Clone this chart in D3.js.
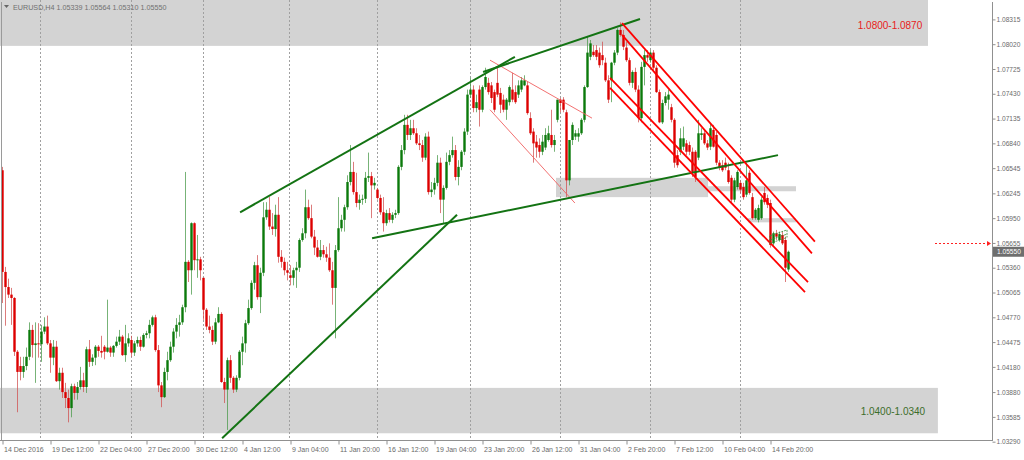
<!DOCTYPE html>
<html><head><meta charset="utf-8">
<script src="https://cdn.jsdelivr.net/npm/d3@7"></script>
<style>body{margin:0;background:#fff;overflow:hidden}svg{display:block}</style>
</head><body><svg id="c" width="1024" height="460"></svg>
<script>
// ---- data (EURUSD H4) ----
const opens=[1.0652,1.0531,1.0513,1.0504,1.0500,1.0436,1.0419,1.0412,1.0419,1.0430,1.0462,1.0444,1.0446,1.0445,1.0460,1.0466,1.0446,1.0429,1.0442,1.0401,1.0411,1.0388,1.0381,1.0369,1.0395,1.0387,1.0394,1.0402,1.0394,1.0439,1.0424,1.0429,1.0442,1.0437,1.0442,1.0436,1.0441,1.0435,1.0443,1.0448,1.0454,1.0432,1.0446,1.0450,1.0435,1.0446,1.0450,1.0442,1.0456,1.0458,1.0468,1.0477,1.0438,1.0396,1.0382,1.0412,1.0426,1.0442,1.0460,1.0468,1.0471,1.0489,1.0543,1.0533,1.0589,1.0545,1.0546,1.0524,1.0486,1.0466,1.0462,1.0448,1.0471,1.0481,1.0400,1.0391,1.0426,1.0405,1.0391,1.0405,1.0436,1.0446,1.0470,1.0488,1.0518,1.0539,1.0501,1.0530,1.0596,1.0605,1.0585,1.0582,1.0599,1.0549,1.0543,1.0533,1.0527,1.0524,1.0533,1.0536,1.0569,1.0577,1.0608,1.0595,1.0573,1.0560,1.0549,1.0557,1.0552,1.0548,1.0533,1.0512,1.0557,1.0583,1.0593,1.0608,1.0638,1.0650,1.0626,1.0613,1.0617,1.0618,1.0643,1.0645,1.0634,1.0629,1.0619,1.0602,1.0589,1.0601,1.0593,1.0599,1.0601,1.0656,1.0676,1.0706,1.0694,1.0702,1.0696,1.0684,1.0682,1.0667,1.0692,1.0626,1.0629,1.0637,1.0661,1.0617,1.0631,1.0662,1.0670,1.0676,1.0644,1.0656,1.0674,1.0698,1.0742,1.0748,1.0726,1.0748,1.0724,1.0751,1.0756,1.0753,1.0745,1.0756,1.0744,1.0736,1.0724,1.0733,1.0748,1.0745,1.0742,1.0748,1.0753,1.0753,1.0714,1.0698,1.0686,1.0682,1.0674,1.0679,1.0688,1.0694,1.0682,1.0712,1.0736,1.0736,1.0721,1.0640,1.0688,1.0692,1.0692,1.0696,1.0712,1.0751,1.0787,1.0793,1.0795,1.0792,1.0789,1.0780,1.0759,1.0759,1.0780,1.0792,1.0819,1.0813,1.0798,1.0783,1.0756,1.0769,1.0748,1.0714,1.0775,1.0789,1.0783,1.0792,1.0774,1.0745,1.0709,1.0732,1.0736,1.0727,1.0712,1.0670,1.0674,1.0680,1.0684,1.0682,1.0674,1.0674,1.0667,1.0694,1.0696,1.0684,1.0680,1.0700,1.0694,1.0661,1.0658,1.0661,1.0652,1.0643,1.0617,1.0632,1.0637,1.0632,1.0623,1.0649,1.0620,1.0595,1.0593,1.0595,1.0625,1.0619,1.0613,1.0565,1.0577,1.0569,1.0575,1.0569,1.05339];
const highs=[1.0656,1.0537,1.0523,1.0512,1.0501,1.0438,1.0430,1.0430,1.0441,1.0471,1.0468,1.0471,1.0470,1.0468,1.0477,1.0479,1.0450,1.0450,1.0449,1.0417,1.0417,1.0399,1.0391,1.0398,1.0398,1.0400,1.0418,1.0411,1.0442,1.0450,1.0433,1.0444,1.0444,1.0455,1.0444,1.0498,1.0443,1.0444,1.0454,1.0462,1.0456,1.0468,1.0458,1.0455,1.0449,1.0454,1.0454,1.0458,1.0461,1.0474,1.0479,1.0480,1.0444,1.0400,1.0417,1.0436,1.0448,1.0464,1.0476,1.0480,1.0492,1.0650,1.0545,1.0590,1.0590,1.0575,1.0549,1.0524,1.0488,1.0479,1.0467,1.0476,1.0489,1.0483,1.0405,1.0429,1.0432,1.0407,1.0408,1.0438,1.0454,1.0474,1.0498,1.0521,1.0543,1.0551,1.0536,1.0614,1.0614,1.0620,1.0601,1.0611,1.0620,1.0557,1.0548,1.0543,1.0539,1.0536,1.0543,1.0571,1.0583,1.0629,1.0617,1.0611,1.0581,1.0569,1.0569,1.0563,1.0561,1.0565,1.0543,1.0563,1.0620,1.0599,1.0611,1.0646,1.0682,1.0662,1.0649,1.0623,1.0623,1.0650,1.0673,1.0650,1.0643,1.0631,1.0623,1.0620,1.0605,1.0607,1.0602,1.0605,1.0658,1.0682,1.0718,1.0718,1.0712,1.0712,1.0702,1.0694,1.0688,1.0696,1.0698,1.0638,1.0643,1.0670,1.0667,1.0634,1.0673,1.0676,1.0692,1.0682,1.0664,1.0676,1.0702,1.0748,1.0762,1.0753,1.0742,1.0753,1.0753,1.0774,1.0762,1.0757,1.0748,1.0775,1.0750,1.0742,1.0738,1.0753,1.0768,1.0753,1.0759,1.0763,1.0765,1.0757,1.0721,1.0702,1.0694,1.0690,1.0694,1.0702,1.0705,1.0724,1.0694,1.0736,1.0738,1.0739,1.0724,1.0688,1.0709,1.0700,1.0702,1.0714,1.0753,1.0811,1.0807,1.0801,1.0801,1.0798,1.0805,1.0786,1.0765,1.0781,1.0795,1.0821,1.0828,1.0819,1.0805,1.0786,1.0771,1.0774,1.0753,1.0781,1.0795,1.0795,1.0795,1.0795,1.0777,1.0748,1.0736,1.0745,1.0748,1.0731,1.0714,1.0676,1.0702,1.0704,1.0688,1.0686,1.0679,1.0676,1.0712,1.0702,1.0700,1.0688,1.0708,1.0706,1.0698,1.0664,1.0664,1.0667,1.0661,1.0646,1.0643,1.0652,1.0640,1.0637,1.0661,1.0652,1.0625,1.0607,1.0611,1.0620,1.0632,1.0623,1.0617,1.0579,1.0581,1.0579,1.0579,1.0573,1.05564];
const lows=[1.0494,1.0467,1.0500,1.0468,1.0431,1.0364,1.0402,1.0405,1.0414,1.0426,1.0429,1.0399,1.0429,1.0424,1.0457,1.0444,1.0411,1.0420,1.0400,1.0391,1.0381,1.0369,1.0352,1.0358,1.0379,1.0379,1.0391,1.0388,1.0387,1.0418,1.0419,1.0420,1.0430,1.0429,1.0427,1.0435,1.0430,1.0430,1.0441,1.0444,1.0431,1.0424,1.0442,1.0430,1.0431,1.0442,1.0437,1.0441,1.0452,1.0452,1.0466,1.0436,1.0388,1.0370,1.0381,1.0402,1.0424,1.0435,1.0452,1.0454,1.0468,1.0483,1.0519,1.0504,1.0533,1.0524,1.0521,1.0474,1.0462,1.0458,1.0444,1.0445,1.0470,1.0399,1.0375,1.0343,1.0399,1.0387,1.0388,1.0402,1.0420,1.0435,1.0468,1.0486,1.0510,1.0498,1.0482,1.0526,1.0593,1.0581,1.0575,1.0573,1.0542,1.0536,1.0527,1.0521,1.0515,1.0515,1.0512,1.0531,1.0567,1.0571,1.0593,1.0571,1.0551,1.0548,1.0545,1.0548,1.0543,1.0531,1.0492,1.0452,1.0555,1.0579,1.0579,1.0605,1.0634,1.0623,1.0608,1.0605,1.0611,1.0613,1.0638,1.0595,1.0629,1.0617,1.0599,1.0579,1.0586,1.0590,1.0589,1.0595,1.0599,1.0652,1.0671,1.0688,1.0688,1.0694,1.0682,1.0676,1.0662,1.0664,1.0623,1.0620,1.0623,1.0633,1.0601,1.0589,1.0629,1.0658,1.0667,1.0640,1.0634,1.0652,1.0670,1.0694,1.0738,1.0721,1.0721,1.0704,1.0721,1.0748,1.0742,1.0732,1.0721,1.0739,1.0720,1.0721,1.0712,1.0729,1.0733,1.0731,1.0738,1.0745,1.0752,1.0718,1.0694,1.0661,1.0667,1.0667,1.0670,1.0676,1.0686,1.0679,1.0674,1.0709,1.0721,1.0721,1.0620,1.0634,1.0682,1.0688,1.0686,1.0694,1.0709,1.0750,1.0783,1.0787,1.0783,1.0774,1.0777,1.0757,1.0732,1.0733,1.0777,1.0789,1.0811,1.0795,1.0781,1.0753,1.0750,1.0745,1.0709,1.0709,1.0753,1.0781,1.0780,1.0769,1.0744,1.0708,1.0707,1.0729,1.0724,1.0709,1.0655,1.0655,1.0670,1.0676,1.0670,1.0670,1.0644,1.0638,1.0664,1.0688,1.0682,1.0676,1.0676,1.0679,1.0658,1.0652,1.0650,1.0652,1.0636,1.0613,1.0614,1.0629,1.0625,1.0617,1.0620,1.0623,1.0593,1.0593,1.0590,1.0593,1.0611,1.0607,1.0560,1.0562,1.0569,1.0567,1.0563,1.0519,1.05310];
const closes=[1.0531,1.0513,1.0504,1.0500,1.0436,1.0412,1.0412,1.0419,1.0430,1.0462,1.0444,1.0446,1.0445,1.0460,1.0466,1.0446,1.0429,1.0442,1.0401,1.0411,1.0388,1.0381,1.0369,1.0395,1.0387,1.0394,1.0402,1.0394,1.0439,1.0424,1.0429,1.0442,1.0437,1.0435,1.0436,1.0441,1.0435,1.0443,1.0448,1.0454,1.0432,1.0446,1.0452,1.0435,1.0446,1.0450,1.0442,1.0456,1.0458,1.0468,1.0477,1.0438,1.0396,1.0382,1.0412,1.0426,1.0442,1.0460,1.0468,1.0471,1.0489,1.0543,1.0533,1.0589,1.0545,1.0546,1.0533,1.0486,1.0466,1.0462,1.0448,1.0471,1.0481,1.0400,1.0391,1.0426,1.0405,1.0391,1.0405,1.0436,1.0446,1.0470,1.0488,1.0518,1.0539,1.0501,1.0530,1.0596,1.0605,1.0585,1.0582,1.0599,1.0549,1.0543,1.0533,1.0530,1.0524,1.0533,1.0536,1.0569,1.0577,1.0608,1.0595,1.0573,1.0560,1.0549,1.0557,1.0552,1.0548,1.0533,1.0512,1.0557,1.0583,1.0593,1.0608,1.0638,1.0650,1.0626,1.0613,1.0617,1.0618,1.0643,1.0645,1.0634,1.0637,1.0619,1.0602,1.0589,1.0601,1.0593,1.0599,1.0601,1.0656,1.0676,1.0706,1.0694,1.0702,1.0696,1.0684,1.0682,1.0667,1.0692,1.0626,1.0629,1.0637,1.0661,1.0617,1.0631,1.0662,1.0670,1.0676,1.0644,1.0656,1.0674,1.0698,1.0742,1.0748,1.0726,1.0733,1.0724,1.0751,1.0763,1.0745,1.0738,1.0724,1.0742,1.0730,1.0724,1.0736,1.0751,1.0736,1.0733,1.0753,1.0759,1.0759,1.0720,1.0696,1.0684,1.0679,1.0674,1.0686,1.0694,1.0696,1.0682,1.0688,1.0736,1.0732,1.0724,1.0640,1.0688,1.0706,1.0696,1.0696,1.0712,1.0751,1.0792,1.0803,1.0789,1.0787,1.0777,1.0783,1.0759,1.0736,1.0780,1.0792,1.0819,1.0813,1.0799,1.0783,1.0756,1.0769,1.0748,1.0714,1.0775,1.0789,1.0786,1.0792,1.0774,1.0745,1.0709,1.0732,1.0740,1.0742,1.0712,1.0661,1.0658,1.0690,1.0690,1.0674,1.0674,1.0650,1.0644,1.0696,1.0696,1.0684,1.0679,1.0702,1.0680,1.0661,1.0655,1.0652,1.0655,1.0638,1.0617,1.0640,1.0650,1.0629,1.0620,1.0640,1.0625,1.0595,1.0605,1.0607,1.0617,1.0614,1.0611,1.0563,1.0577,1.0573,1.0576,1.0565,1.0536,1.05550];

const yTickValues=[1.08315,1.08020,1.07725,1.07430,1.07135,1.06840,1.06545,1.06245,1.05950,1.05655,1.05360,1.05065,1.04770,1.04475,1.04180,1.03880,1.03585,1.03290];
const xTickBars=[0,16,32,48,64,80,96,112,128,144,160,176,192,208,224,240,256];
const xTickLabels=["14 Dec 2016","19 Dec 12:00","22 Dec 04:00","27 Dec 20:00","30 Dec 12:00","4 Jan 12:00","9 Jan 04:00","11 Jan 20:00","16 Jan 12:00","19 Jan 04:00","23 Jan 20:00","26 Jan 12:00","31 Jan 04:00","2 Feb 20:00","7 Feb 12:00","10 Feb 04:00","14 Feb 20:00"];
const weekStarts=[13,43,67,96,125,156,186,216,246];

// drawn objects: [barIndex, price] endpoints
const greenLines=[[[79.2,1.0602],[170.8,1.0787]],[[160.2,1.0769],[212.5,1.0832]],[[123.2,1.0571],[258.5,1.0670]],[[73.2,1.0333],[151.5,1.0599]]];
const thinRedLines=[[[162.5,1.0783],[196.5,1.0714]],[[162.5,1.0724],[190.8,1.0613]]];
const channelLines=[[[206.5,1.0827],[270.8,1.0567]],[[206.5,1.0813],[269.8,1.0553]],[[202.5,1.0762],[268.5,1.0519]],[[202.5,1.0750],[267.5,1.0507]]];
const miniChannel=[[[255.8,1.0574],[261.5,1.0581]],[[255.8,1.0569],[261.5,1.0576]],[[255.8,1.0565],[261.5,1.0572]],[[255.8,1.0574],[255.8,1.0565]],[[261.5,1.0581],[261.5,1.0572]]];
const zones=[{from:-2,to:308.5,hi:1.0870,lo:1.0800,label:"1.0800-1.0870"},{from:-2,to:311.8,hi:1.0393,lo:1.0339,label:"1.0400-1.0340"}];
const smallZones=[[184.5,235.2,1.0643,1.0620],[235.2,264.5,1.0633,1.0627],[248.5,264.5,1.0595,1.0590]];
const alertPrice=1.05655;
const header=["EURUSD,H4","1.05339","1.05564","1.05310","1.05550"];

// ---- scales ----
const svg=d3.select("#c");
const plotR=993, plotB=441;
const x=d3.scaleLinear().domain([0,330]).range([2.5,992.5]);
const y=d3.scaleLinear().domain([1.03298,1.08546]).range([441,0]);

svg.append("rect").attr("width",1024).attr("height",460).attr("fill","#fff");
svg.append("defs").append("clipPath").attr("id","pc").append("rect").attr("x",0).attr("y",0).attr("width",plotR).attr("height",plotB);
const g=svg.append("g").attr("clip-path","url(#pc)");

// zones
g.selectAll(".z").data(zones).join("rect").attr("x",d=>x(d.from)).attr("y",d=>y(d.hi))
 .attr("width",d=>x(d.to)-x(d.from)).attr("height",d=>y(d.lo)-y(d.hi)).attr("fill","#d3d3d3");
g.selectAll(".sz").data(smallZones).join("rect").attr("x",d=>x(d[0])).attr("y",d=>y(d[2]))
 .attr("width",d=>x(d[1])-x(d[0])).attr("height",d=>y(d[3])-y(d[2])).attr("fill","#d3d3d3");

// week separators
g.selectAll(".sep").data(weekStarts).join("line").attr("x1",d=>Math.round(x(d))-0.5).attr("x2",d=>Math.round(x(d))-0.5)
 .attr("y1",0).attr("y2",plotB).attr("stroke","#a0a0a0").attr("stroke-dasharray","2,2").attr("stroke-width",1);

// candles
const idx=d3.range(closes.length);
const up=i=>closes[i]>=opens[i];
g.selectAll(".wick").data(idx).join("line").attr("x1",i=>x(i)).attr("x2",i=>x(i))
 .attr("y1",i=>y(highs[i])).attr("y2",i=>y(lows[i]))
 .attr("stroke",i=>up(i)?"#4a9a4a":"#d05050").attr("stroke-width",1).attr("stroke-opacity",0.75);
g.selectAll(".body").data(idx).join("rect").attr("x",i=>x(i)-1.2).attr("width",2.4)
 .attr("y",i=>y(Math.max(opens[i],closes[i])))
 .attr("height",i=>Math.max(1,Math.abs(y(opens[i])-y(closes[i]))))
 .attr("fill",i=>up(i)?"#0b7a0b":"#dd0000");

// lines
const lg=d3.line().x(d=>x(d[0])).y(d=>y(d[1]));
g.selectAll(".tl").data(thinRedLines).join("path").attr("d",lg).attr("fill","none").attr("stroke","#f06060").attr("stroke-width",0.9);
g.selectAll(".gl").data(greenLines).join("path").attr("d",lg).attr("fill","none").attr("stroke","#137313").attr("stroke-width",2);
g.selectAll(".cl").data(channelLines).join("path").attr("d",lg).attr("fill","none").attr("stroke","#ff0000").attr("stroke-width",1.8);
g.selectAll(".mc").data(miniChannel).join("path").attr("d",lg).attr("fill","none").attr("stroke","#2e8b2e").attr("stroke-width",0.8).attr("stroke-dasharray","2,1");

// zone labels
g.append("text").attr("x",x(zones[0].to)-38).attr("y",y((zones[0].hi+zones[0].lo)/2)+13)
 .attr("text-anchor","middle").attr("font-family","Liberation Sans, Arial, sans-serif").attr("font-size",10).attr("fill","#e8201a").text(zones[0].label);
g.append("text").attr("x",x(zones[1].to)-45).attr("y",y((zones[1].hi+zones[1].lo)/2)+4)
 .attr("text-anchor","middle").attr("font-family","Liberation Sans, Arial, sans-serif").attr("font-size",10).attr("fill","#3c6e2a").text(zones[1].label);

// alert line
g.append("line").attr("x1",935).attr("x2",988).attr("y1",Math.round(y(alertPrice))+0.5).attr("y2",Math.round(y(alertPrice))+0.5)
 .attr("stroke","#ff2020").attr("stroke-dasharray","2,2");
g.append("path").attr("d",`M987,${Math.round(y(alertPrice))-2}L991,${Math.round(y(alertPrice))+0.5}L987,${Math.round(y(alertPrice))+3}Z`).attr("fill","#ff2020");

// header
svg.append("path").attr("d","M4,5L9,5L6.5,8Z").attr("fill","#666");
svg.append("text").attr("x",13).attr("y",10).attr("font-family","Liberation Sans, Arial, sans-serif").attr("font-size",7.2).attr("fill","#707070")
 .text(header.join(" ").replace("H4 ","H4  "));

// frame
svg.append("line").attr("x1",1.5).attr("x2",1.5).attr("y1",2).attr("y2",plotB).attr("stroke","#9a9a9a");

// axes
const ya=svg.append("g").attr("transform",`translate(${plotR-0.5},0)`)
 .call(d3.axisRight(y).tickValues(yTickValues).tickFormat(d3.format(".5f")).tickSize(3).tickSizeOuter(0));
ya.select(".domain").attr("stroke","#909090").attr("d",`M0,2V${plotB}`);
ya.selectAll(".tick line").attr("stroke","#909090");
ya.selectAll("text").attr("font-family","Liberation Sans, Arial, sans-serif").attr("font-size",6.6).attr("fill","#6a6a6a").attr("x",4);

const xa=svg.append("g").attr("transform",`translate(0,${plotB-0.5})`)
 .call(d3.axisBottom(x).tickValues(xTickBars).tickFormat((d,k)=>xTickLabels[k]).tickSize(4).tickSizeOuter(0));
xa.select(".domain").attr("stroke","#909090").attr("d",`M0,0H${plotR}`);
xa.selectAll(".tick line").attr("stroke","#909090");
xa.selectAll("text").attr("font-family","Liberation Sans, Arial, sans-serif").attr("font-size",7).attr("fill","#6a6a6a")
 .attr("text-anchor","start").attr("x",1).attr("y",7);

// last price marker
const lp=closes[closes.length-1];
svg.append("rect").attr("x",plotR).attr("y",y(lp)-5).attr("width",31).attr("height",10).attr("fill","#6e6e6e");
svg.append("text").attr("x",plotR+4).attr("y",y(lp)+2.5).attr("font-family","Liberation Sans, Arial, sans-serif").attr("font-size",6.6).attr("fill","#fff").text(d3.format(".5f")(lp));
</script></body></html>
